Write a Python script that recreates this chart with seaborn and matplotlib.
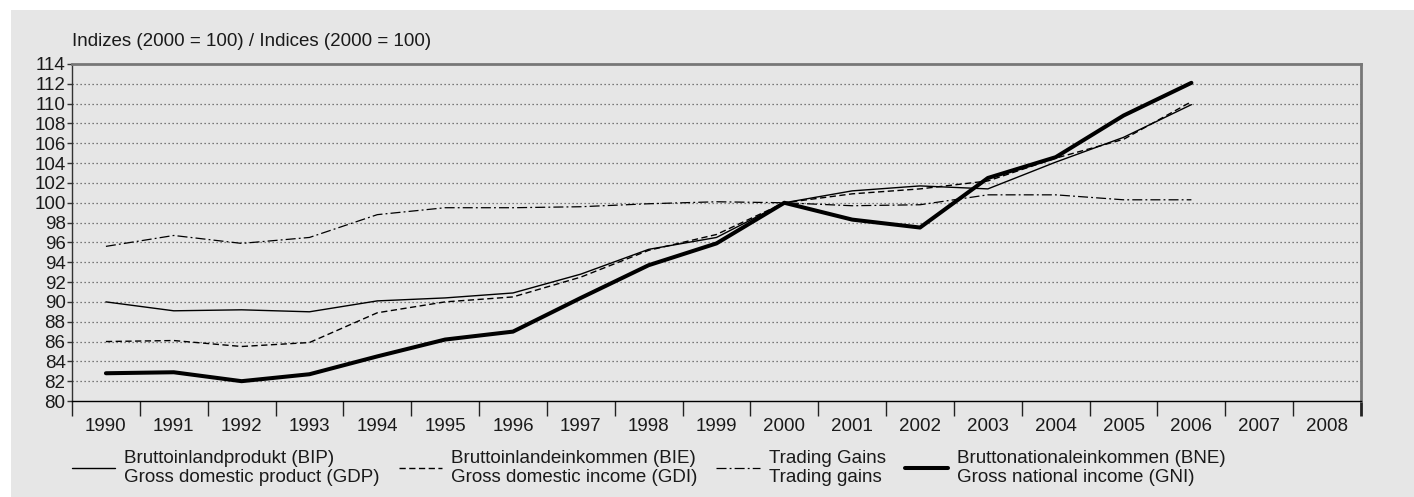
import matplotlib
matplotlib.use("Agg")
import matplotlib.pyplot as plt
import matplotlib.patches as mpatches
import pandas as pd
import seaborn as sns

years = list(range(1990, 2007))
year_labels = list(range(1990, 2009))

gdp = [90.0, 89.1, 89.2, 89.0, 90.1, 90.4, 90.9, 92.8, 95.3, 96.5,
       100.0, 101.2, 101.7, 101.4, 104.1, 106.6, 109.9]
gdi = [86.0, 86.1, 85.5, 85.9, 88.9, 90.0, 90.5, 92.5, 95.2, 96.8,
       100.0, 100.9, 101.4, 102.2, 104.5, 106.4, 110.2]
trading = [95.6, 96.7, 95.9, 96.5, 98.8, 99.5, 99.5, 99.6, 99.9, 100.1,
           100.0, 99.7, 99.8, 100.8, 100.8, 100.3, 100.3]
gni = [82.8, 82.9, 82.0, 82.7, 84.5, 86.2, 87.0, 90.4, 93.7, 95.9,
       100.0, 98.3, 97.5, 102.5, 104.6, 108.8, 112.1]

labels = [
    "Bruttoinlandprodukt (BIP)\nGross domestic product (GDP)",
    "Bruttoinlandeinkommen (BIE)\nGross domestic income (GDI)",
    "Trading Gains\nTrading gains",
    "Bruttonationaleinkommen (BNE)\nGross national income (GNI)",
]

sns.set_theme(style="white")
plt.rcParams["font.family"] = ["Liberation Sans", "DejaVu Sans"]
plt.rcParams["text.color"] = "#1a1a1a"

W, H = 1414, 497
fig = plt.figure(figsize=(W / 100, H / 100), dpi=100)
fig.patch.set_facecolor("white")
# grey panel behind everything, white strip on top and left
fig.patches.append(mpatches.Rectangle((11 / W, 0), 1 - 11 / W, 1 - 10 / H,
                                      transform=fig.transFigure,
                                      facecolor="#e6e6e6", edgecolor="none", zorder=-5))

ax = fig.add_axes([72 / W, 1 - 401 / H, (1361 - 72) / W, (401 - 64) / H])
ax.set_facecolor("#e6e6e6")
ax.set_zorder(2)

fs = 13.5
styles = [
    dict(lw=1.0, ls="-"),
    dict(lw=1.0, ls=(0, (4.5, 2.5))),
    dict(lw=0.9, ls=(0, (8, 2.5, 1.5, 2.5))),
    dict(lw=2.9, ls="-"),
]
series = [gdp, gdi, trading, gni]
for vals, lab, st in zip(series, labels, styles):
    df = pd.DataFrame({"year": years, "value": vals})
    sns.lineplot(data=df, x="year", y="value", ax=ax, color="black",
                 linewidth=st["lw"], linestyle=st["ls"], label=lab, zorder=3)

ax.set_xlim(1989.5, 2008.5)
ax.set_ylim(80, 114)
ax.set_xlabel("")
ax.set_ylabel("")

ax.set_yticks(range(80, 115, 2))
ax.tick_params(axis="y", which="major", left=True, length=3.6, width=1,
               color="#333333", pad=1, labelsize=fs, labelcolor="#1a1a1a")
for yv in range(82, 114, 2):
    ax.axhline(yv, color="#555555", lw=0.9, ls=(0, (1, 2.2)), zorder=1)

# year labels centred in bands, long ticks on band edges
ax.set_xticks(year_labels)
ax.set_xticklabels([str(y) for y in year_labels])
ax.set_xticks([y - 0.5 for y in year_labels] + [2008.5], minor=True)
ax.tick_params(axis="x", which="major", bottom=True, length=0, pad=12.5,
               labelsize=fs, labelcolor="#1a1a1a")
ax.tick_params(axis="x", which="minor", bottom=True, length=10.8, width=1,
               color="#222222")
mt = ax.xaxis.get_minor_ticks()
mt[-1].tick1line.set_color("#777777")
mt[-1].tick1line.set_markeredgewidth(2)

for side in ["top", "right"]:
    ax.spines[side].set_color("#777777")
    ax.spines[side].set_linewidth(2)
ax.spines["left"].set_color("#333333")
ax.spines["left"].set_linewidth(1)
ax.spines["bottom"].set_color("black")
ax.spines["bottom"].set_linewidth(1)

fig.text(72 / W, 1 - 41 / H, "Indizes (2000 = 100) / Indices (2000 = 100)",
         fontsize=fs, va="center", ha="left")

handles, labs = ax.get_legend_handles_labels()
ax.get_legend().remove()
leg = fig.legend(handles, labs, ncol=4, loc="center left",
                 bbox_to_anchor=(72 / W, 1 - 468 / H), frameon=False,
                 fontsize=fs, handlelength=2.3, handletextpad=0.5,
                 columnspacing=1.0, borderpad=0, borderaxespad=0)
for t in leg.get_texts():
    t.set_linespacing(1.15)

fig.savefig("out.png", dpi=100, facecolor=fig.get_facecolor())
